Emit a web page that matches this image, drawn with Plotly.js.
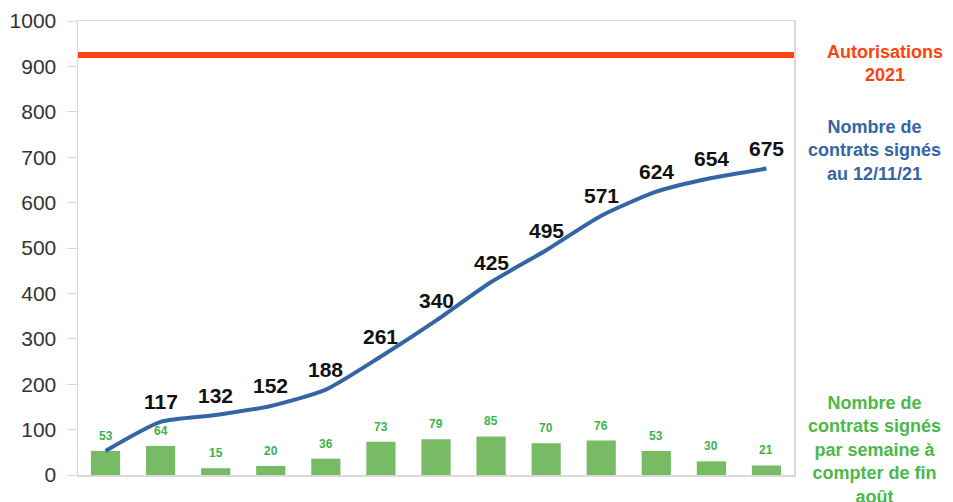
<!DOCTYPE html>
<html>
<head>
<meta charset="utf-8">
<script src="https://cdn.plot.ly/plotly-3.0.1.min.js"></script>
<style>html,body{margin:0;padding:0;background:#fff;}#chart{width:953px;height:502px;}</style>
</head>
<body>
<div id="chart"></div>
<script>
// Semaines (catégories) à compter de fin août
var weeks = ["S1","S2","S3","S4","S5","S6","S7","S8","S9","S10","S11","S12","S13"];
// Contrats signés par semaine
var weekly = [53, 64, 15, 20, 36, 73, 79, 85, 70, 76, 53, 30, 21];
// Contrats signés cumulés au 12/11/21
var cumulative = [53, 117, 132, 152, 188, 261, 340, 425, 495, 571, 624, 654, 675];
// Libellés affichés sur la courbe cumulée (le premier point n'a pas d'étiquette)
var cumulativeLabels = ["", "117", "132", "152", "188", "261", "340", "425", "495", "571", "624", "654", "675"];
// Autorisations 2021
var authorisations = 925;
var yTicks = [0, 100, 200, 300, 400, 500, 600, 700, 800, 900, 1000];

var fontFam = "Liberation Sans, Arial, sans-serif";

var bars = {
  type: "bar",
  x: weeks,
  y: weekly,
  width: 0.53,
  marker: {color: "#77bc65"},
  hoverinfo: "skip"
};
var line = {
  type: "scatter",
  mode: "lines",
  x: weeks,
  y: cumulative,
  line: {color: "#3465a4", width: 4, shape: "spline", smoothing: 0.6},
  hoverinfo: "skip"
};

var annotations = [];
weeks.forEach(function (w, i) {
  annotations.push({
    xref: "x", yref: "y", x: w, y: weekly[i], text: String(weekly[i]),
    showarrow: false, xanchor: "center", yanchor: "middle", yshift: 15,
    font: {family: fontFam, size: 12, color: "#3db34e", weight: "bold"}
  });
  if (cumulativeLabels[i]) {
    annotations.push({
      xref: "x", yref: "y", x: w, y: cumulative[i], text: cumulativeLabels[i],
      showarrow: false, xanchor: "center", yanchor: "middle", yshift: 20,
      font: {family: fontFam, size: 21, color: "#111111", weight: "bold"}
    });
  }
});
annotations.push(
  {xref: "paper", yref: "paper", x: 1.127, y: 0.9065, xanchor: "center", yanchor: "middle",
   text: "Autorisations<br>2021", showarrow: false, align: "center",
   font: {family: fontFam, size: 18, color: "#ff420e", weight: "bold"}},
  {xref: "paper", yref: "paper", x: 1.112, y: 0.714, xanchor: "center", yanchor: "middle",
   text: "Nombre de<br>contrats signés<br>au 12/11/21", showarrow: false, align: "center",
   font: {family: fontFam, size: 18, color: "#3465a4", weight: "bold"}},
  {xref: "paper", yref: "paper", x: 1.112, y: 0.056, xanchor: "center", yanchor: "middle",
   text: "Nombre de<br>contrats signés<br>par semaine à<br>compter de fin<br>août", showarrow: false, align: "center",
   font: {family: fontFam, size: 18, color: "#4cb848", weight: "bold"}}
);

var layout = {
  width: 953, height: 502,
  margin: {l: 78, r: 159, t: 21, b: 27},
  paper_bgcolor: "#ffffff", plot_bgcolor: "#ffffff",
  showlegend: false,
  font: {family: fontFam},
  xaxis: {
    type: "category",
    range: [-0.5, 12.5],
    showticklabels: false,
    ticks: "",
    showgrid: false,
    zeroline: false,
    showline: true, mirror: true, linecolor: "#d9d9d9", linewidth: 1.5,
    fixedrange: true
  },
  yaxis: {
    range: [0, 1000],
    tickvals: yTicks,
    ticktext: yTicks.map(String),
    ticks: "outside", ticklen: 10, tickcolor: "#d9d9d9", tickwidth: 1,
    ticklabelstandoff: 6,
    tickfont: {family: fontFam, size: 21, color: "#333333"},
    showgrid: false,
    zeroline: false,
    showline: true, mirror: true, linecolor: "#d9d9d9", linewidth: 1.5,
    fixedrange: true
  },
  shapes: [{
    type: "line", xref: "paper", x0: 0, x1: 1,
    yref: "y", y0: authorisations, y1: authorisations,
    line: {color: "#ff420e", width: 6}
  }],
  annotations: annotations
};

Plotly.newPlot("chart", [bars, line], layout, {staticPlot: true, displayModeBar: false});
</script>
</body>
</html>
